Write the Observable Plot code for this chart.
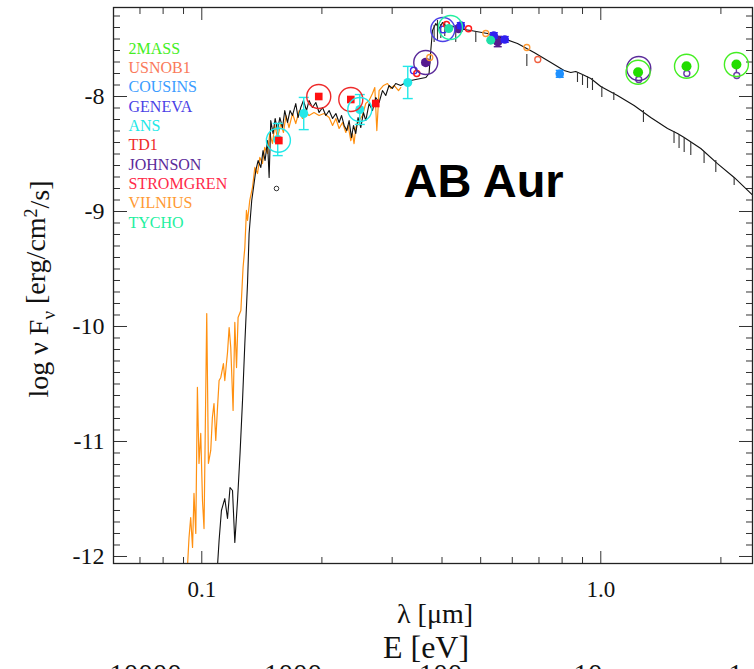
<!DOCTYPE html>
<html><head><meta charset="utf-8">
<script src="https://cdn.jsdelivr.net/npm/d3@7"></script>
<script src="https://cdn.jsdelivr.net/npm/@observablehq/plot@0.6"></script>
<style>html,body{margin:0;padding:0;background:#fff;overflow:hidden}</style>
</head><body><div id="chart"></div>
<script>
// ---------- data (wavelength in micron, log nu F_nu) ----------
const modelLam = [0.1095,0.1105,0.1120,0.1142,0.1160,0.1177,0.1194,0.1210,0.1229,0.1247,
0.1265,0.1282,0.1302,0.1314,0.1334,0.1348,0.1366,0.1384,0.1406,0.1424,
0.1441,0.1461,0.1475,0.1489,0.1509,0.1527,0.1548,0.1569,0.1594,0.1614,
0.1640,0.1664,0.1688,0.1720,0.1743,0.1770,0.1798,0.1830,0.1857,0.1894,
0.1931,0.1968,0.2007,0.2046,0.2085,0.2127,0.2168,0.2209,0.2240,0.2274,
0.2309,0.2340,0.2372,0.2400,0.2432,0.2464,0.2503,0.2542,0.2576,0.2626,
0.2678,0.2729,0.2782,0.2837,0.2891,0.2946,0.3004,0.3062,0.3152,0.3245,
0.3340,0.3438,0.3538,0.3642,0.3712,0.3749,0.3786,0.3859,0.3933,0.4011,
0.4128,0.4207,0.4373,0.4722,0.5200,0.5615,0.6183,0.6806,0.7497,0.8091,
0.8409,0.8654,0.8999,0.9440,1.000,1.101,1.212,1.334,1.470,1.557,
1.618,1.781,1.961,2.159,2.436];
const modelLogF = [-12.08,-11.861,-11.600,-11.496,-11.670,-11.400,-11.426,-11.878,-11.513,-11.104,
-10.643,-10.148,-9.626,-9.191,-8.904,-8.791,-8.643,-8.557,-8.617,-8.470,
-8.557,-8.383,-8.704,-8.209,-8.322,-8.191,-8.296,-8.183,-8.270,-8.122,
-8.226,-8.122,-8.165,-8.061,-8.183,-8.096,-8.035,-8.122,-8.035,-8.096,
-8.052,-8.139,-8.096,-8.165,-8.122,-8.191,-8.148,-8.226,-8.165,-8.252,
-8.296,-8.209,-8.357,-8.252,-8.322,-8.183,-8.270,-8.139,-8.209,-8.061,
-8.122,-8.009,-8.052,-7.948,-7.991,-7.904,-7.930,-7.887,-7.904,-7.878,
-7.861,-7.852,-7.843,-7.835,-7.800,-7.600,-7.426,-7.365,-7.409,-7.357,
-7.400,-7.383,-7.409,-7.426,-7.452,-7.487,-7.539,-7.617,-7.704,-7.774,
-7.791,-7.783,-7.809,-7.843,-7.913,-7.991,-8.078,-8.183,-8.278,-8.322,
-8.357,-8.452,-8.583,-8.704,-8.878];

// absorption lines of the model
const lineLam    = [0.3822,0.3897,0.3972,0.4064,0.4330,0.4861,0.6526,0.8742,0.8999,0.9262,0.9532,1.006,1.078,1.279,1.526,1.571,1.618,1.681,1.815,1.942,2.159];
const lineTop    = [-7.383,-7.339,-7.374,-7.357,-7.400,-7.435,-7.635,-7.791,-7.809,-7.826,-7.843,-7.913,-7.965,-8.122,-8.304,-8.330,-8.357,-8.400,-8.478,-8.557,-8.704];
const lineBottom = [-7.530,-7.513,-7.496,-7.478,-7.530,-7.530,-7.739,-7.878,-7.904,-7.930,-7.948,-8.009,-8.035,-8.226,-8.409,-8.452,-8.487,-8.513,-8.583,-8.661,-8.774];

// UV spectrum (orange)
const uvLam = [0.0921,0.0929,0.0938,0.0948,0.0956,0.0966,0.0975,0.0984,0.0994,0.1004,
0.1013,0.1029,0.1039,0.1053,0.1063,0.1073,0.1084,0.1095,0.1105,0.1116,
0.1133,0.1142,0.1160,0.1171,0.1182,0.1198,0.1210,0.1222,0.1233,0.1253,
0.1269,0.1282,0.1294,0.1302,0.1319,0.1340,0.1358,0.1379,0.1398,0.1419,
0.1438,0.1461,0.1480,0.1504,0.1524,0.1548,0.1578,0.1602,0.1626,0.1654,
0.1688,0.1720,0.1754,0.1788,0.1823,0.1857,0.1911,0.1968,0.2025,0.2085,
0.2127,0.2168,0.2209,0.2253,0.2296,0.2327,0.2363,0.2386,0.2408,0.2432,
0.2479,0.2528,0.2576,0.2626,0.2678,0.2714,0.2746,0.2782,0.2854,0.2920,
0.2977,0.3034,0.3112,0.3152];
const uvLogF = [-12.08,-11.835,-11.661,-11.922,-11.452,-11.800,-10.530,-11.191,-10.930,-11.513,
-11.757,-9.887,-11.191,-11.078,-10.791,-10.670,-10.991,-10.704,-10.470,-10.443,
-10.322,-10.470,-10.226,-10.009,-10.183,-10.730,-9.965,-10.357,-9.922,-9.861,
-9.487,-9.313,-8.991,-9.078,-8.904,-8.791,-8.617,-8.670,-8.530,-8.583,
-8.443,-8.496,-8.322,-8.409,-8.252,-8.357,-8.235,-8.313,-8.165,-8.270,
-8.148,-8.235,-8.122,-8.191,-8.139,-8.165,-8.139,-8.165,-8.148,-8.183,
-8.252,-8.191,-8.278,-8.226,-8.313,-8.252,-8.383,-8.322,-8.409,-8.270,
-8.209,-8.165,-8.061,-8.035,-7.974,-7.922,-8.296,-7.948,-7.904,-7.887,
-7.930,-7.904,-7.948,-7.922];

// photometry by survey
const td1Lam = [0.1560,0.1964,0.2363,0.2729];
const td1LogF = [-8.383,-8.000,-8.026,-8.061];
const ansLam = [0.1550,0.1801,0.2489,0.3283];
const ansLogF = [-8.374,-8.148,-8.113,-7.878];
const ansErr = [0.14,0.14,0.13,0.14];
const genevaLam = [0.4458,0.5393,0.5745];
const genevaLogF = [-7.383,-7.470,-7.504];
const genevaOpenLam = [0.3399,0.4030];
const genevaOpenLogF = [-7.774,-7.417];
const johnsonLam = [0.3642,0.4406,0.5518];
const johnsonLogF = [-7.704,-7.409,-7.522];
const johnsonErr = [0.02,0.02,0.045];
const johnsonIRLam = [1.245,1.643,2.192];
const johnsonIRLogF = [-7.852,-7.800,-7.817];
const stromLam = [0.3458,0.4104,0.4661];
const stromLogF = [-7.800,-7.374,-7.411];
const vilniusLam = [0.3727,0.5149,0.6526];
const vilniusLogF = [-7.661,-7.452,-7.574];
const usnoLam = [0.6952];
const usnoLogF = [-7.678];
const tychoLam = [0.4159,0.5299];
const tychoLogF = [-7.409,-7.510];
const cousinsLam = [0.7891];
const cousinsLogF = [-7.803];
const twomassLam = [1.240,1.640,2.187];
const twomassLogF = [-7.789,-7.737,-7.722];
const otherLam = [0.1539];
const otherLogF = [-8.80];

// highlighted (circled) points
const ringLam = [0.1556,0.1964,0.2363,0.2489,0.3642,0.4018,0.4200,1.245,1.240,1.640,2.187];
const ringLogF = [-8.38,-8.00,-8.026,-8.113,-7.704,-7.417,-7.40,-7.757,-7.789,-7.737,-7.722];
const ringSurvey = ["ANS","TD1","TD1","ANS","JOHNSON","GENEVA","TYCHO","JOHNSON","2MASS","2MASS","2MASS"];

// legend
const legendNames = ["2MASS","USNOB1","COUSINS","GENEVA","ANS","TD1","JOHNSON","STROMGREN","VILNIUS","TYCHO"];
const legendColors = ["#44ee22","#fa7a5a","#3a9cff","#4a3fe6","#22e8e8","#ee2a2a","#5a2a9a","#ff2a4a","#ff9a33","#22f0a0"];
const color = Object.fromEntries(legendNames.map((n, i) => [n, legendColors[i]]));

// axes
const xMajor = [0.1, 1];
const xMinor = [0.07,0.08,0.09,0.2,0.3,0.4,0.5,0.6,0.7,0.8,0.9,2];
const yMajor = [-8,-9,-10,-11,-12];
const yMinor = d3.range(-120, -72).filter(k => k % 10 !== 0).map(k => k / 10);
const energyLabels = ["10000","1000","100","10","1"];

// ---------- helpers ----------
const pts = (lam, val, extra) => lam.map((l, i) => ({lam: l, v: val[i], e: extra ? extra[i] : 0}));
const capSymbol = {draw(ctx, size) { const w = Math.sqrt(size / Math.PI); ctx.moveTo(-w, 0); ctx.lineTo(w, 0); }};
const serif = "Liberation Serif, Times New Roman, serif";

function errorBars(data, stroke, capR) {
  return [
    Plot.ruleX(data, {x: "lam", y1: d => d.v - d.e, y2: d => d.v + d.e, stroke, strokeWidth: 1.4}),
    Plot.dot(data, {x: "lam", y: d => d.v - d.e, symbol: capSymbol, r: capR, stroke, strokeWidth: 1.4, fill: "none"}),
    Plot.dot(data, {x: "lam", y: d => d.v + d.e, symbol: capSymbol, r: capR, stroke, strokeWidth: 1.4, fill: "none"})
  ];
}

const axisStyle = {stroke: "#333", strokeWidth: 1};
const model = pts(modelLam, modelLogF);
const uv = pts(uvLam, uvLogF);
const lines = lineLam.map((l, i) => ({lam: l, y1: lineTop[i], y2: lineBottom[i]}));
const rings = ringLam.map((l, i) => ({lam: l, v: ringLogF[i], s: ringSurvey[i]}));
const ans = pts(ansLam, ansLogF, ansErr);
const johnson = pts(johnsonLam, johnsonLogF, johnsonErr);
const geneva = pts(genevaLam, genevaLogF, genevaLam.map(() => 0.025));
const cousins = pts(cousinsLam, cousinsLogF, [0.03]);
const twomassLinks = twomassLam.map((l, i) => ({lam: l, y1: twomassLogF[i], y2: johnsonIRLogF[i]}));

const chart = Plot.plot({
  width: 754, height: 669,
  marginLeft: 113, marginRight: 2, marginTop: 7, marginBottom: 106,
  x: {type: "log", domain: [0.06008, 2.4001]},
  y: {domain: [-12.061, -7.226]},
  style: {fontFamily: serif, background: "#fff", color: "#111"},
  marks: [
    // tick marks (inward)
    Plot.axisX({anchor: "bottom", ticks: xMajor, tickSize: 12, dy: -12, tickFormat: () => "", label: null, ...axisStyle}),
    Plot.axisX({anchor: "bottom", ticks: xMinor, tickSize: 6, dy: -6, tickFormat: () => "", label: null, ...axisStyle}),
    Plot.axisX({anchor: "top", ticks: xMajor, tickSize: 12, dy: 12, tickFormat: () => "", label: null, ...axisStyle}),
    Plot.axisX({anchor: "top", ticks: xMinor, tickSize: 6, dy: 6, tickFormat: () => "", label: null, ...axisStyle}),
    Plot.axisY({anchor: "left", ticks: yMajor, tickSize: 14, dx: 14, tickFormat: () => "", label: null, ...axisStyle}),
    Plot.axisY({anchor: "left", ticks: yMinor, tickSize: 7, dx: 7, tickFormat: () => "", label: null, ...axisStyle}),
    Plot.axisY({anchor: "right", ticks: yMajor, tickSize: 14, dx: -14, tickFormat: () => "", label: null, ...axisStyle}),
    Plot.axisY({anchor: "right", ticks: yMinor, tickSize: 7, dx: -7, tickFormat: () => "", label: null, ...axisStyle}),
    // tick labels
    Plot.axisX({anchor: "bottom", ticks: xMajor, tickSize: 0, tickPadding: 17, tickFormat: d => d.toFixed(1), label: null, fontSize: 23, fontFamily: serif, fill: "#111"}),
    Plot.axisY({anchor: "left", ticks: yMajor, tickSize: 0, tickPadding: 9, tickFormat: d => "-" + Math.abs(d), label: null, fontSize: 24, fontFamily: serif, fill: "#111"}),

    // spectra
    Plot.line(uv, {x: "lam", y: "v", stroke: "#ff9010", strokeWidth: 1.2, clip: true}),
    Plot.line(model, {x: "lam", y: "v", stroke: "#111", strokeWidth: 1.1, clip: true}),
    Plot.ruleX(lines, {x: "lam", y1: "y1", y2: "y2", stroke: "#333", strokeWidth: 1.1}),

    // photometry
    ...errorBars(ans, color.ANS, 5),
    Plot.dot(ans, {x: "lam", y: "v", r: 4.5, fill: color.ANS}),
    Plot.dot(pts(td1Lam, td1LogF), {x: "lam", y: "v", symbol: "square", r: 4.3, fill: "#ff1010"}),
    ...errorBars(johnson, "#551a90", 4),
    Plot.dot(johnson, {x: "lam", y: "v", r: 4.8, fill: "#551a90"}),
    ...errorBars(geneva, "#3020f0", 4),
    Plot.dot(geneva, {x: "lam", y: "v", r: 4.3, fill: "#3020f0"}),
    Plot.dot(pts(genevaOpenLam, genevaOpenLogF), {x: "lam", y: "v", r: 3.3, stroke: "#3a30f0", strokeWidth: 1.4, fill: "none"}),
    Plot.dot(pts(stromLam, stromLogF), {x: "lam", y: "v", r: 3, stroke: "#ff1a1a", strokeWidth: 1.5, fill: "none"}),
    Plot.dot(pts(vilniusLam, vilniusLogF), {x: "lam", y: "v", r: 3, stroke: "#ff9a33", strokeWidth: 1.3, fill: "none"}),
    Plot.dot(pts(usnoLam, usnoLogF), {x: "lam", y: "v", r: 3, stroke: "#f06040", strokeWidth: 1.3, fill: "none"}),
    Plot.dot(pts(tychoLam, tychoLogF), {x: "lam", y: "v", r: 4.5, fill: "#20e0a8"}),
    ...errorBars(cousins, "#1e90ff", 4),
    Plot.dot(cousins, {x: "lam", y: "v", r: 4.3, fill: "#1e90ff"}),
    Plot.ruleX(twomassLinks, {x: "lam", y1: "y1", y2: "y2", stroke: "#6a3aa8", strokeWidth: 1.4}),
    Plot.dot(pts(johnsonIRLam, johnsonIRLogF), {x: "lam", y: "v", r: 3, stroke: "#6a3aa8", strokeWidth: 1.4, fill: "#fff"}),
    Plot.dot(pts(twomassLam, twomassLogF), {x: "lam", y: "v", r: 5, fill: "#22dd00"}),
    Plot.dot(pts(otherLam, otherLogF), {x: "lam", y: "v", r: 2.3, stroke: "#333", strokeWidth: 1, fill: "none"}),
    Plot.dot(rings, {x: "lam", y: "v", r: 12, stroke: d => color[d.s], strokeWidth: 1.4, fill: "none"}),

    // frame
    Plot.frame({stroke: "#222", strokeWidth: 1.3}),

    // legend
    ...legendNames.map((name, i) => Plot.text([name], {frameAnchor: "top-left", dx: 15, dy: 41 + i * 19.33,
      fill: legendColors[i], fontSize: 16, fontFamily: serif, textAnchor: "start", lineAnchor: "middle"})),

    // star name
    Plot.text(["AB Aur"], {frameAnchor: "top-left", dx: 290, dy: 174, fontSize: 47, fontWeight: "bold",
      fontFamily: "Liberation Sans, Arial, sans-serif", fill: "#000", textAnchor: "start", lineAnchor: "middle"}),

    // x-axis titles
    Plot.text(["λ [μm]"], {frameAnchor: "bottom", dx: 2, dy: 51, fontSize: 28, fontFamily: serif, fill: "#111", lineAnchor: "middle"}),
    Plot.text(["E [eV]"], {frameAnchor: "bottom", dx: -7, dy: 84, fontSize: 32, fontFamily: serif, fill: "#111", lineAnchor: "middle"}),
    ...energyLabels.map((t, i) => Plot.text([t], {frameAnchor: "bottom-left", dx: 32 + i * 147.5, dy: 100,
      fontSize: 29, fontFamily: serif, fill: "#111", textAnchor: "middle", lineAnchor: "top"}))
  ]
});

// y-axis title with sub/superscripts
const svg = d3.select(chart);
const yl = svg.append("text")
  .attr("transform", "translate(48,289) rotate(-90)")
  .attr("text-anchor", "middle")
  .attr("font-family", serif)
  .attr("font-size", 28)
  .attr("fill", "#111");
yl.append("tspan").text("log ν F");
yl.append("tspan").attr("font-size", 19).attr("dy", "0.35em").text("ν");
yl.append("tspan").attr("dy", "-0.35em").text(" [erg/cm");
yl.append("tspan").attr("font-size", 18).attr("dy", "-0.45em").text("2");
yl.append("tspan").attr("dy", "0.45em").text("/s]");

document.getElementById("chart").appendChild(chart);
</script></body></html>
